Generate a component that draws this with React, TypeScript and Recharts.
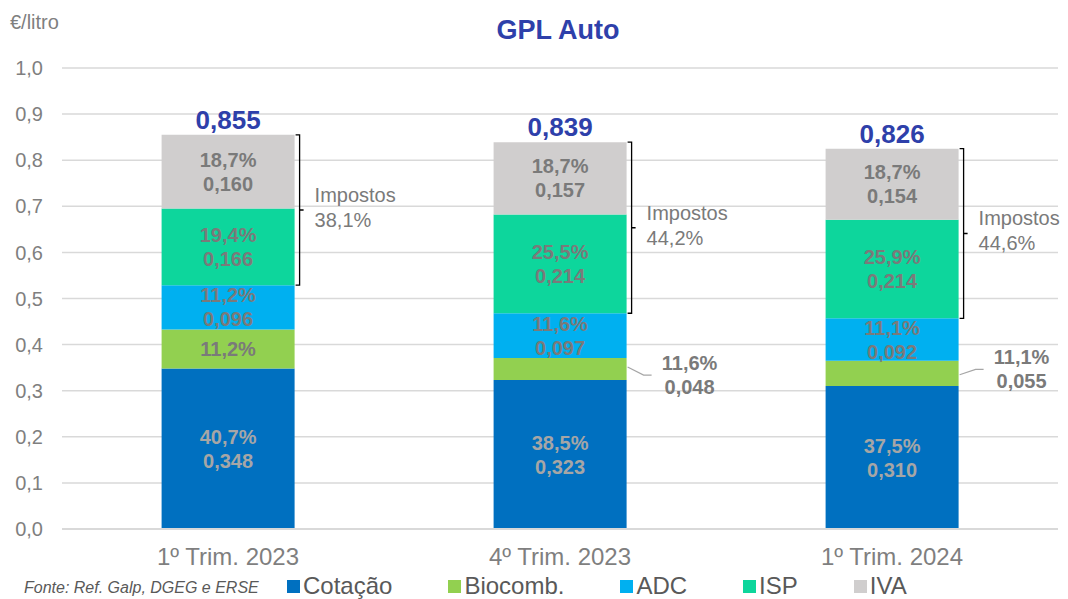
import { BarChart, Bar, XAxis, YAxis, CartesianGrid, LabelList } from "recharts";

const categories = ["1º Trim. 2023", "4º Trim. 2023", "1º Trim. 2024"];
const cotacao = [0.348, 0.323, 0.31];
const biocomb = [0.085, 0.048, 0.055];
const adc = [0.096, 0.097, 0.092];
const isp = [0.166, 0.214, 0.214];
const iva = [0.16, 0.157, 0.154];

const cotacaoPct = ["40,7%", "38,5%", "37,5%"];
const biocombPct = ["11,2%", "11,6%", "11,1%"];
const adcPct = ["11,2%", "11,6%", "11,1%"];
const ispPct = ["19,4%", "25,5%", "25,9%"];
const ivaPct = ["18,7%", "18,7%", "18,7%"];

const totals = [0.855, 0.839, 0.826];
const impostosPct = ["38,1%", "44,2%", "44,6%"];

const yTicks = [0, 0.1, 0.2, 0.3, 0.4, 0.5, 0.6, 0.7, 0.8, 0.9, 1.0];

const seriesNames = ["Cotação", "Biocomb.", "ADC", "ISP", "IVA"];
const seriesColors = ["#0070C0", "#92D050", "#00B0F0", "#0DD69C", "#D0CECE"];

const FONT = '"Liberation Sans", Arial, sans-serif';
const LABEL_GRAY = "#7A7A7A";
const TOTAL_BLUE = "#2E40AA";

const data = categories.map((name, i) => ({
  name,
  cotacao: cotacao[i],
  biocomb: biocomb[i],
  adc: adc[i],
  isp: isp[i],
  iva: iva[i],
}));

const fmt = (v: number, d: number) => v.toFixed(d).replace(".", ",");

// two-line label (percent + value) centred in a segment
const segLabel = (pcts: string[], vals: number[], color: string) => (props: any) => {
  const x = Number(props.x);
  const y = Number(props.y);
  const w = Number(props.width);
  const h = Number(props.height);
  const i = props.index;
  const cx = x + w / 2;
  const cy = y + h / 2;
  return (
    <text textAnchor="middle" fill={color} fontSize={20} fontWeight="bold" fontFamily={FONT}>
      <tspan x={cx} y={cy - 12} dy="0.35em">{pcts[i]}</tspan>
      <tspan x={cx} y={cy + 12} dy="0.35em">{fmt(vals[i], 3)}</tspan>
    </text>
  );
};

const calloutShift = [0, 6, -4];

const biocombLabel = (props: any) => {
  const x = Number(props.x);
  const y = Number(props.y);
  const w = Number(props.width);
  const h = Number(props.height);
  const i = props.index;
  const cy = y + h / 2;
  if (i === 0) {
    return (
      <text x={x + w / 2} y={cy} dy="0.35em" textAnchor="middle" fill={LABEL_GRAY}
        fontSize={20} fontWeight="bold" fontFamily={FONT}>
        {biocombPct[i]}
      </text>
    );
  }
  const r = x + w;
  const ty = cy + calloutShift[i];
  return (
    <g>
      <polyline points={`${r + 1},${cy - calloutShift[i] / 3} ${r + 17},${ty} ${r + 25},${ty}`}
        fill="none" stroke="#A6A6A6" strokeWidth={1.2} />
      <text textAnchor="middle" fill={LABEL_GRAY} fontSize={20} fontWeight="bold" fontFamily={FONT}>
        <tspan x={r + 63} y={ty - 12} dy="0.35em">{biocombPct[i]}</tspan>
        <tspan x={r + 63} y={ty + 12} dy="0.35em">{fmt(biocomb[i], 3)}</tspan>
      </text>
    </g>
  );
};

const totalLabel = (props: any) => {
  const x = Number(props.x);
  const y = Number(props.y);
  const w = Number(props.width);
  const i = props.index;
  return (
    <text x={x + w / 2} y={y - 6} textAnchor="middle" fill={TOTAL_BLUE} fontSize={26}
      fontWeight="bold" fontFamily={FONT}>
      {fmt(totals[i], 3)}
    </text>
  );
};

// bracket over IVA + ISP, using the segment's own px/value ratio
const taxBracket = (props: any) => {
  const x = Number(props.x);
  const y = Number(props.y);
  const w = Number(props.width);
  const h = Number(props.height);
  const i = props.index;
  const pxPerUnit = h / iva[i];
  const bottom = y + h + isp[i] * pxPerUnit;
  const r = x + w;
  const mid = (y + bottom) / 2;
  return (
    <g>
      <path
        d={`M${r + 1},${y} L${r + 5},${y} L${r + 5},${bottom} L${r + 1},${bottom} M${r + 5},${mid} L${r + 9},${mid}`}
        fill="none" stroke="#000" strokeWidth={1.3} />
      <text fill={LABEL_GRAY} fontSize={20} fontFamily={FONT}>
        <tspan x={r + 20} y={mid - 8}>Impostos</tspan>
        <tspan x={r + 20} y={mid + 17}>{impostosPct[i]}</tspan>
      </text>
    </g>
  );
};

export default function App() {
  return (
    <div style={{ position: "absolute", left: 0, top: 0, width: 1068, height: 599, fontFamily: FONT, background: "#fff" }}>
      <BarChart width={1068} height={599} data={data}
        margin={{ top: 68, right: 10, bottom: 30, left: 12 }} barCategoryGap="30%">
        <CartesianGrid vertical={false} stroke="#D9D9D9" strokeWidth={1.5} />
        <XAxis dataKey="name" tickLine={false} axisLine={{ stroke: "#D9D9D9", strokeWidth: 2 }}
          height={40} tickMargin={13}
          tick={{ fontSize: 24, fill: "#7F7F7F", fontFamily: FONT }} />
        <YAxis domain={[0, 1]} ticks={yTicks} tickFormatter={(v: number) => fmt(v, 1)}
          tickLine={false} axisLine={false} width={50} tickMargin={13}
          tick={{ fontSize: 20, fill: "#7F7F7F", fontFamily: FONT }} />
        <Bar dataKey="cotacao" stackId="a" fill={seriesColors[0]} isAnimationActive={false}>
          <LabelList dataKey="cotacao" content={segLabel(cotacaoPct, cotacao, "#A6A6A6")} />
        </Bar>
        <Bar dataKey="biocomb" stackId="a" fill={seriesColors[1]} isAnimationActive={false}>
          <LabelList dataKey="biocomb" content={biocombLabel} />
        </Bar>
        <Bar dataKey="adc" stackId="a" fill={seriesColors[2]} isAnimationActive={false}>
          <LabelList dataKey="adc" content={segLabel(adcPct, adc, LABEL_GRAY)} />
        </Bar>
        <Bar dataKey="isp" stackId="a" fill={seriesColors[3]} isAnimationActive={false}>
          <LabelList dataKey="isp" content={segLabel(ispPct, isp, LABEL_GRAY)} />
        </Bar>
        <Bar dataKey="iva" stackId="a" fill={seriesColors[4]} isAnimationActive={false}>
          <LabelList dataKey="iva" content={segLabel(ivaPct, iva, LABEL_GRAY)} />
          <LabelList dataKey="iva" content={totalLabel} />
          <LabelList dataKey="iva" content={taxBracket} />
        </Bar>
      </BarChart>

      <div style={{ position: "absolute", left: 10, top: 12, fontSize: 20, lineHeight: "20px", color: "#7F7F7F" }}>
        €/litro
      </div>
      <div style={{ position: "absolute", left: 408, width: 300, top: 17, textAlign: "center", fontSize: 27,
        lineHeight: "27px", fontWeight: "bold", color: TOTAL_BLUE }}>
        GPL Auto
      </div>
      <div style={{ position: "absolute", left: 24, top: 580, fontSize: 16, lineHeight: "16px",
        fontStyle: "italic", color: "#595959" }}>
        Fonte: Ref. Galp, DGEG e ERSE
      </div>
      <div style={{ position: "absolute", left: 287, top: 574, display: "flex", gap: 56, alignItems: "center" }}>
        {seriesNames.map((n, i) => (
          <div key={n} style={{ display: "flex", alignItems: "center" }}>
            <span style={{ display: "inline-block", width: 13, height: 13, background: seriesColors[i], marginRight: 3 }} />
            <span style={{ fontSize: 24, lineHeight: "24px", color: "#595959" }}>{n}</span>
          </div>
        ))}
      </div>
    </div>
  );
}
